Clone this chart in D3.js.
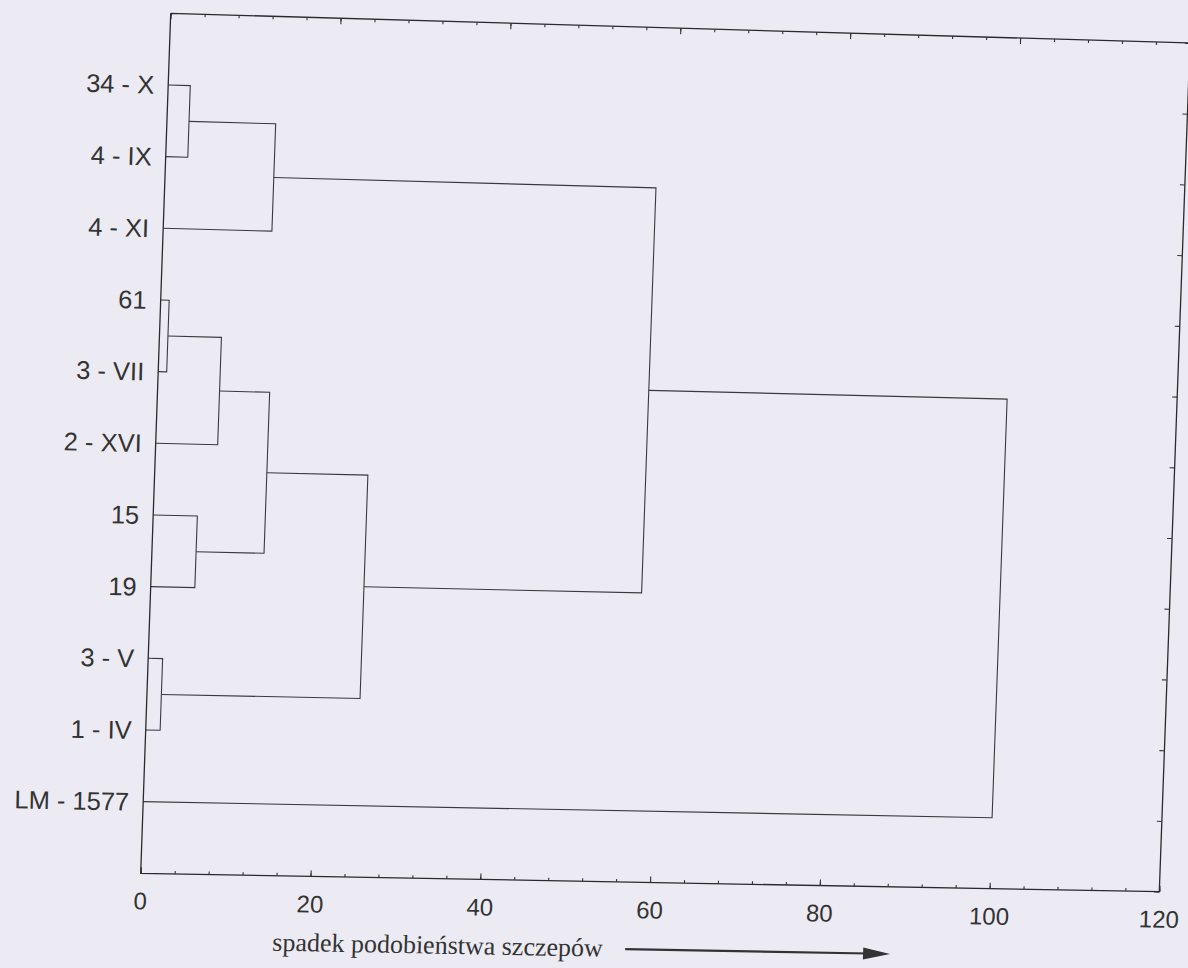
<!DOCTYPE html>
<html>
<head>
<meta charset="utf-8">
<script src="https://cdnjs.cloudflare.com/ajax/libs/d3/7.8.5/d3.min.js"></script>
<style>
  body { margin: 0; background: #ecebf4; }
  svg { display: block; }
</style>
</head>
<body>
<svg width="1188" height="968"></svg>
<script>
// leaves, top to bottom
var leaves = ["34 - X", "4 - IX", "4 - XI", "61", "3 - VII", "2 - XVI", "15", "19", "3 - V", "1 - IV", "LM - 1577"];

// merges: [child a, child b, height]; leaves are 0..10, new clusters 11, 12, ...
var mergeA = [0, 11, 3, 13, 6, 14, 8, 16, 12, 19];
var mergeB = [1, 2, 4, 5, 7, 15, 9, 17, 18, 10];
var mergeHeight = [2.6, 12.8, 1.0, 7.3, 5.2, 13.2, 1.7, 25.1, 57.8, 100];

var majorTicks = [0, 20, 40, 60, 80, 100, 120];
var axisTitle = "spadek podobieństwa szczepów";

var svg = d3.select("svg"),
    W = 1019,
    H = 860;

// the scanned page is a bit skewed, corners of the plot frame on the page
var TL = [170.7, 13.3], TR = [1190, 43], BR = [1159.3, 891.7], BL = [140.7, 873.3];

var warp = function(px, py) {
    var u = px / W, v = py / H;
    return [
        (1-u)*(1-v)*TL[0] + u*(1-v)*TR[0] + u*v*BR[0] + (1-u)*v*BL[0],
        (1-u)*(1-v)*TL[1] + u*(1-v)*TR[1] + u*v*BR[1] + (1-u)*v*BL[1]
    ];
}

var edgeMatrix = function(origin, xEnd, yEnd) {
    // affine matrix with x along origin->xEnd, y along origin->yEnd
    return "matrix(" + [(xEnd[0]-origin[0])/W, (xEnd[1]-origin[1])/W,
        (yEnd[0]-origin[0])/H, (yEnd[1]-origin[1])/H, origin[0], origin[1]].join(",") + ")";
}

var x = d3.scaleLinear().domain([0, 120]).range([0, W]);
var y = d3.scaleLinear().domain([0, 12]).range([0, H]);

svg.append("rect")
    .attr("width", 1188)
    .attr("height", 968)
    .attr("fill", "#ecebf4");

var line = d3.line()
    .x(function(d) { var p = warp(d[0], d[1]); return p[0]; })
    .y(function(d) { var p = warp(d[0], d[1]); return p[1]; });

// nodes: position (leaf index) and height
var nodes = [];
for (var i = 0; i < leaves.length; i++) {
    nodes.push({pos: i + 1, h: 0});
}
for (var j = 0; j < mergeA.length; j++) {
    var a = nodes[mergeA[j]], b = nodes[mergeB[j]];
    nodes.push({pos: (a.pos + b.pos) / 2, h: mergeHeight[j], a: a, b: b});
}

var links = nodes.filter(function(d) { return d.a; });

svg.append("g")
    .attr("class", "tree")
    .selectAll("path")
    .data(links)
    .enter().append("path")
    .attr("fill", "none")
    .attr("stroke", "#3a3a3a")
    .attr("stroke-width", 1.1)
    .attr("d", function(d) {
        return line([
            [x(d.a.h), y(d.a.pos)],
            [x(d.h), y(d.a.pos)],
            [x(d.h), y(d.b.pos)],
            [x(d.b.h), y(d.b.pos)]
        ]);
    });

// frame
svg.append("path")
    .attr("fill", "none")
    .attr("stroke", "#2a2a2a")
    .attr("stroke-width", 1.3)
    .attr("d", line([[0, 0], [W, 0], [W, H], [0, H], [0, 0]]));

// leaf labels
svg.append("g")
    .selectAll("text")
    .data(leaves)
    .enter().append("text")
    .attr("transform", function(d, i) {
        var p = warp(-14, y(i + 1));
        var q = warp(0, y(i + 1));
        var ang = Math.atan2(q[1] - p[1], q[0] - p[0]) * 180 / Math.PI;
        return "translate(" + p[0] + "," + p[1] + ") rotate(" + ang + ")";
    })
    .attr("text-anchor", "end")
    .attr("dy", "0.36em")
    .attr("font-family", "Liberation Sans, Arial, sans-serif")
    .attr("font-size", 25.5)
    .attr("fill", "#333")
    .text(function(d) { return d; });

var styleAxis = function(g) {
    g.select(".domain").remove();
    g.selectAll(".tick line").attr("stroke", "#333").attr("stroke-width", 1.1);
}

var minorTicks = d3.range(0, 121, 4);

// bottom axis
var bottomAxis = svg.append("g").attr("transform", edgeMatrix(BL, BR, [2*BL[0]-TL[0], 2*BL[1]-TL[1]]));
bottomAxis.append("g")
    .call(d3.axisBottom(x).tickValues(minorTicks).tickSizeInner(-3).tickFormat(""))
    .call(styleAxis);
bottomAxis.append("g")
    .call(d3.axisBottom(x).tickValues(majorTicks).tickSizeInner(-6).tickPadding(19).tickFormat(d3.format("d")))
    .call(styleAxis)
    .selectAll("text")
    .attr("font-family", "Liberation Sans, Arial, sans-serif")
    .attr("font-size", 24)
    .attr("fill", "#333");

bottomAxis.append("text")
    .attr("x", 134)
    .attr("y", 75)
    .attr("font-family", "Liberation Serif, Times New Roman, serif")
    .attr("font-size", 26)
    .attr("fill", "#333")
    .text(axisTitle);

// arrow after the title
bottomAxis.append("line")
    .attr("x1", 487)
    .attr("y1", 67)
    .attr("x2", 730)
    .attr("y2", 67)
    .attr("stroke", "#333")
    .attr("stroke-width", 2.2);
bottomAxis.append("path")
    .attr("d", "M725,61L752,67L725,73Z")
    .attr("fill", "#333");

// top axis, ticks pointing down
var topAxis = svg.append("g").attr("transform", edgeMatrix(TL, TR, BL));
topAxis.append("g")
    .call(d3.axisTop(x).tickValues(minorTicks).tickSizeInner(-3).tickFormat(""))
    .call(styleAxis);
topAxis.append("g")
    .call(d3.axisTop(x).tickValues(majorTicks).tickSizeInner(-6).tickFormat(""))
    .call(styleAxis);

// right axis, ticks pointing left
var rightAxis = svg.append("g").attr("transform", edgeMatrix(TR, [2*TR[0]-TL[0], 2*TR[1]-TL[1]], BR));
rightAxis.append("g")
    .call(d3.axisRight(y).tickValues(d3.range(0, 13)).tickSizeInner(-5).tickFormat(""))
    .call(styleAxis);
</script>
</body>
</html>
